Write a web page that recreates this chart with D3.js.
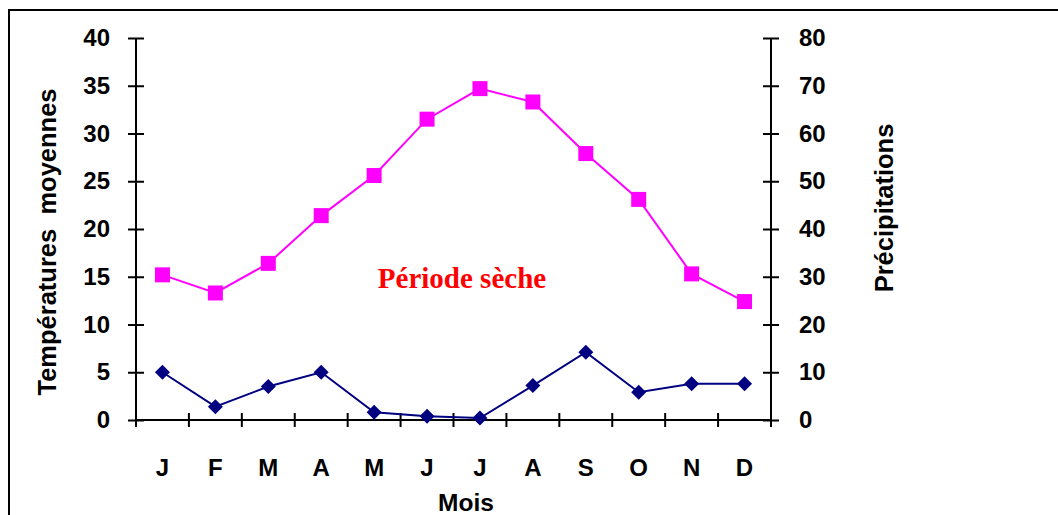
<!DOCTYPE html>
<html>
<head>
<meta charset="utf-8">
<script src="https://cdn.jsdelivr.net/npm/d3@7"></script>
<style>
  body { margin: 0; background: #fff; }
  svg { display: block; }
</style>
</head>
<body>
<div id="chart-area"></div>
<script>
let months = ["J", "F", "M", "A", "M", "J", "J", "A", "S", "O", "N", "D"]
let temperatures = [15.2, 13.3, 16.4, 21.4, 25.6, 31.5, 34.7, 33.3, 27.9, 23.1, 15.3, 12.4]
let precipitations = [10, 2.8, 7, 10, 1.6, 0.8, 0.4, 7.2, 14.2, 5.8, 7.6, 7.6]
let tempTicks = [0, 5, 10, 15, 20, 25, 30, 35, 40]
let precipTicks = [0, 10, 20, 30, 40, 50, 60, 70, 80]

let width = 1058
let height = 515
let margin = { top: 38, right: 287, bottom: 95, left: 136 }
let plotRight = width - margin.right
let plotBottom = height - margin.bottom

let font = "'Liberation Sans', Arial, sans-serif"

let svg = d3.select("#chart-area").append("svg")
  .attr("width", width)
  .attr("height", height)

// outer frame
svg.append("rect")
  .attr("x", 9).attr("y", 10)
  .attr("width", 1100).attr("height", 600)
  .attr("fill", "none")
  .attr("stroke", "#000")
  .attr("stroke-width", 2)

let x = d3.scaleBand()
  .domain(d3.range(months.length))
  .range([margin.left, plotRight])

let yLeft = d3.scaleLinear().domain([0, 40]).range([plotBottom, margin.top])
let yRight = d3.scaleLinear().domain([0, 80]).range([plotBottom, margin.top])

// x axis: ticks on category boundaries
let xAxis = svg.append("g").attr("transform", "translate(0," + plotBottom + ")")
xAxis.append("line")
  .attr("x1", margin.left).attr("x2", plotRight)
  .attr("stroke", "#000").attr("stroke-width", 2)
xAxis.selectAll(".xt")
  .data(d3.range(months.length + 1))
  .enter().append("line")
    .attr("x1", (i) => i < months.length ? x(i) : plotRight)
    .attr("x2", (i) => i < months.length ? x(i) : plotRight)
    .attr("y1", -7).attr("y2", 7)
    .attr("stroke", "#000").attr("stroke-width", 2)
xAxis.selectAll(".xl")
  .data(months)
  .enter().append("text")
    .attr("x", (m, i) => x(i) + x.bandwidth() / 2)
    .attr("y", 56)
    .attr("text-anchor", "middle")
    .attr("font-family", font).attr("font-weight", "bold").attr("font-size", 24)
    .text((m) => m)

// left axis
let leftAxis = svg.append("g")
  .attr("transform", "translate(" + margin.left + ",0)")
  .call(d3.axisLeft(yLeft).tickValues(tempTicks).tickSize(8).tickPadding(18))
leftAxis.select(".domain").attr("stroke-width", 2).attr("d", "M0," + margin.top + "V" + plotBottom)
leftAxis.selectAll(".tick line").attr("x1", 8).attr("x2", -8).attr("stroke-width", 2)
leftAxis.selectAll(".tick text")
  .attr("font-family", font).attr("font-weight", "bold").attr("font-size", 24).attr("fill", "#000")

// right axis
let rightAxis = svg.append("g")
  .attr("transform", "translate(" + plotRight + ",0)")
  .call(d3.axisRight(yRight).tickValues(precipTicks).tickSize(8).tickPadding(20))
rightAxis.select(".domain").attr("stroke-width", 2).attr("d", "M0," + margin.top + "V" + plotBottom)
rightAxis.selectAll(".tick line").attr("x1", -8).attr("x2", 8).attr("stroke-width", 2)
rightAxis.selectAll(".tick text")
  .attr("font-family", font).attr("font-weight", "bold").attr("font-size", 24).attr("fill", "#000")

// axis titles
svg.append("text")
  .attr("transform", "translate(56,242) rotate(-90)")
  .attr("text-anchor", "middle")
  .attr("font-family", font).attr("font-weight", "bold").attr("font-size", 25.5)
  .attr("xml:space", "preserve")
  .text("Températures  moyennes")

svg.append("text")
  .attr("transform", "translate(893,208) rotate(-90)")
  .attr("text-anchor", "middle")
  .attr("font-family", font).attr("font-weight", "bold").attr("font-size", 25.5)
  .text("Précipitations")

svg.append("text")
  .attr("x", 466)
  .attr("y", 511)
  .attr("text-anchor", "middle")
  .attr("font-family", font).attr("font-weight", "bold").attr("font-size", 24.5)
  .text("Mois")

// annotation
svg.append("text")
  .attr("x", 462)
  .attr("y", 288)
  .attr("text-anchor", "middle")
  .attr("font-family", "'Liberation Serif', 'Times New Roman', serif")
  .attr("font-weight", "bold").attr("font-size", 29)
  .attr("fill", "#ff0000")
  .text("Période sèche")

let cx = (d, i) => x(i) + x.bandwidth() / 2

// precipitation line (right axis)
svg.append("path")
  .datum(precipitations)
  .attr("fill", "none")
  .attr("stroke", "#000080")
  .attr("stroke-width", 2)
  .attr("d", d3.line().x(cx).y((d) => yRight(d)))

svg.selectAll(".diamond")
  .data(precipitations)
  .enter().append("path")
    .attr("transform", (d, i) => "translate(" + cx(d, i) + "," + yRight(d) + ")")
    .attr("d", "M0,-7.5L7.5,0L0,7.5L-7.5,0Z")
    .attr("fill", "#000080")

// temperature line (left axis)
svg.append("path")
  .datum(temperatures)
  .attr("fill", "none")
  .attr("stroke", "#ff00ff")
  .attr("stroke-width", 2)
  .attr("d", d3.line().x(cx).y((d) => yLeft(d)))

svg.selectAll(".square")
  .data(temperatures)
  .enter().append("rect")
    .attr("x", (d, i) => cx(d, i) - 7.5)
    .attr("y", (d) => yLeft(d) - 7.5)
    .attr("width", 15).attr("height", 15)
    .attr("fill", "#ff00ff")
</script>
</body>
</html>
